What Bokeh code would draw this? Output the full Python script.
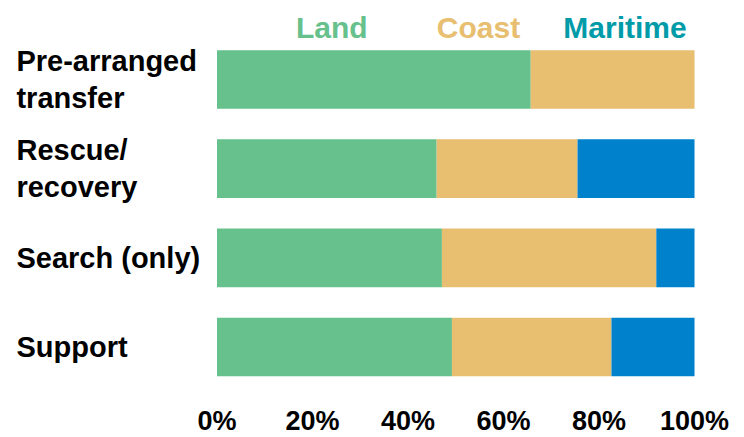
from bokeh.plotting import figure
from bokeh.models import Range1d, ColumnDataSource
from bokeh.core.properties import value
from bokeh.embed import file_html
from bokeh.resources import INLINE

categories = ["Pre-arranged\ntransfer", "Rescue/\nrecovery", "Search (only)", "Support"]
series = ["Land", "Coast", "Maritime"]
land = [65.7, 46.0, 47.1, 49.2]
coast = [34.3, 29.5, 44.9, 33.4]
maritime = [0.0, 24.5, 8.0, 17.4]
ticks = [0, 20, 40, 60, 80, 100]
tick_labels = ["0%", "20%", "40%", "60%", "80%", "100%"]

bar_colors = ["#66C18C", "#E8BE70", "#0081CC"]
legend_colors = ["#66C18C", "#E8BE70", "#009BA8"]
FONT = "Liberation Sans"

n = len(categories)
ypos = [n - 1 - i for i in range(n)]  # first category on top

W, H = 740, 436
p = figure(width=W, height=H, output_backend="svg", toolbar_location=None,
           x_axis_type=None, y_axis_type=None,
           x_range=Range1d(-45.34, 109.63), y_range=Range1d(-1.004, 3.886),
           min_border=0, min_border_left=0, min_border_right=0,
           min_border_top=0, min_border_bottom=0)
p.outline_line_color = None

src = ColumnDataSource(dict(y=ypos, Land=land, Coast=coast, Maritime=maritime))
p.hbar_stack(series, y="y", height=0.658, color=bar_colors, source=src, line_color=None)

# category labels (left aligned)
p.text(x=[-42.0] * n, y=ypos, text=categories, text_align="left", text_baseline="middle",
       text_font=value(FONT), text_font_style="bold", text_font_size="29px",
       text_color="#000000", text_line_height=1.15)

# x tick labels
p.text(x=ticks, y=[-0.835] * len(ticks), text=tick_labels, text_align="center",
       text_baseline="middle", text_font=value(FONT), text_font_style="bold",
       text_font_size="27px", text_color="#000000")

# legend texts on top
legend_x = [24.04, 54.76, 85.45]
p.text(x=legend_x, y=[3.583] * 3, text=series, text_align="center", text_baseline="middle",
       text_font=value(FONT), text_font_style="bold", text_font_size="30px",
       text_color=legend_colors)

open("out.html", "w").write(file_html(p, INLINE))
